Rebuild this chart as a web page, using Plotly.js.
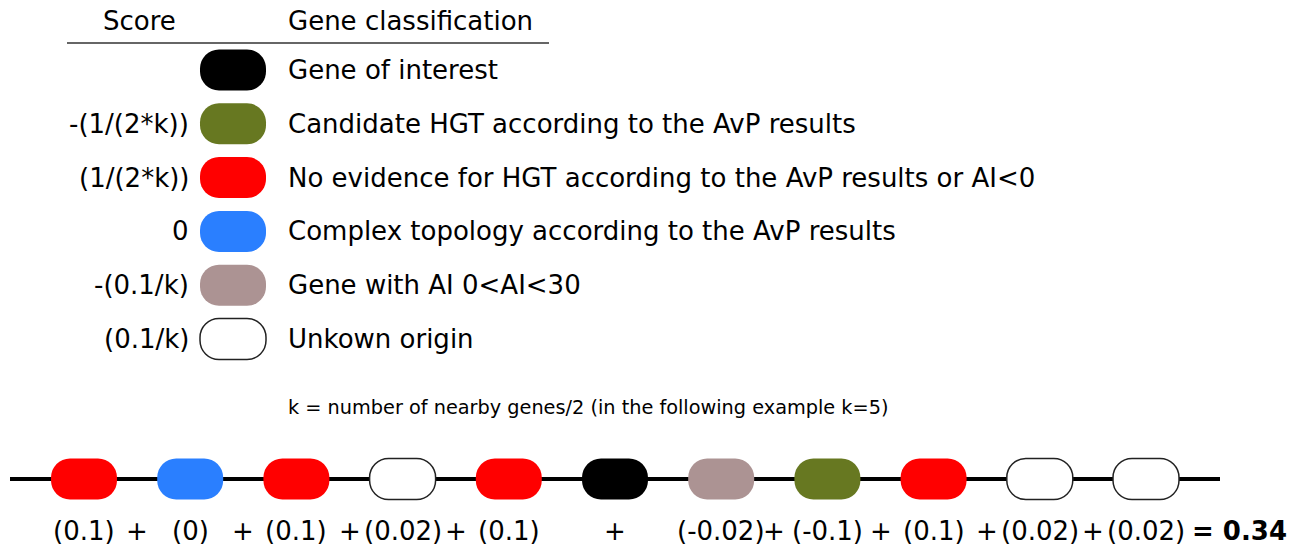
<!DOCTYPE html>
<html>
<head>
<meta charset="utf-8">
<script src="https://cdn.plot.ly/plotly-3.0.1.min.js"></script>
<style>html,body{margin:0;padding:0;background:#fff;}#chart{width:1303px;height:548px;}</style>
</head>
<body>
<div id="chart"></div>
<script>
// ---- Legend data ----
const legendClasses = [
  "Gene of interest",
  "Candidate HGT according to the AvP results",
  "No evidence for HGT according to the AvP results or AI<0",
  "Complex topology according to the AvP results",
  "Gene with AI 0<AI<30",
  "Unkown origin"
];
const legendScores = ["", "-(1/(2*k))", "(1/(2*k))", "0", "-(0.1/k)", "(0.1/k)"];
const legendColors = ["#000000", "#677821", "#ff0000", "#2a7fff", "#ac9393", "#ffffff"];
const headerScore = "Score";
const headerClass = "Gene classification";
const kNote = "k = number of nearby genes/2 (in the following example k=5)";

// ---- Example neighbourhood (k=5) ----
const geneClass = [2, 3, 2, 5, 2, 0, 4, 1, 2, 5, 5]; // index into legend arrays
const geneScores = [0.1, 0, 0.1, 0.02, 0.1, null, -0.02, -0.1, 0.1, 0.02, 0.02];

// ---- Build ----
const FONT = "DejaVu Sans, Verdana, sans-serif";
const FS = 26;
const GENE_ROW_Y = 479, EQ_Y = 531;
const GENE_X0 = 84, GENE_STEP = 106.2;
const ROW_Y0 = 70, ROW_STEP = 53.8;

function pillPath(w, h, r) {
  const k = 0.5523 * r, x = w / 2, y = h / 2;
  return `M ${-x + r},${-y} L ${x - r},${-y} C ${x - r + k},${-y} ${x},${-y + r - k} ${x},${-y + r} ` +
    `L ${x},${y - r} C ${x},${y - r + k} ${x - r + k},${y} ${x - r},${y} ` +
    `L ${-x + r},${y} C ${-x + r - k},${y} ${-x},${y - r + k} ${-x},${y - r} ` +
    `L ${-x},${-y + r} C ${-x},${-y + r - k} ${-x + r - k},${-y} ${-x + r},${-y} Z`;
}
const PILL = pillPath(66, 41, 19);

const shapes = [];
const annotations = [];
const txt = (o) => Object.assign({showarrow: false, yanchor: "middle",
  font: {family: FONT, size: FS, color: "#000"}}, o);

// header underline
shapes.push({type: "line", xref: "x", yref: "y", x0: 67, x1: 549, y0: 43, y1: 43,
  line: {color: "#333333", width: 1.5}, layer: "above"});
annotations.push(txt({xref: "x", yref: "y", x: 139, y: 21, text: headerScore, xanchor: "center"}));
annotations.push(txt({xref: "x", yref: "y", x: 286, y: 21, text: headerClass, xanchor: "left"}));

// legend rows
legendClasses.forEach((name, i) => {
  const white = legendColors[i] === "#ffffff";
  shapes.push({type: "path", xref: "x", yref: "y2", xsizemode: "pixel", ysizemode: "pixel",
    xanchor: 233, yanchor: i, path: PILL, fillcolor: legendColors[i],
    line: {color: white ? "#222222" : legendColors[i], width: white ? 1.5 : 0}, layer: "above"});
  annotations.push(txt({xref: "x", yref: "y2", x: 286, y: i, text: name.replace(/</g, "&lt;"), xanchor: "left"}));
  if (legendScores[i]) {
    annotations.push(txt({xref: "x", yref: "y2", x: 191, y: i, text: legendScores[i], xanchor: "right"}));
  }
});
annotations.push(txt({xref: "x", yref: "y", x: 286, y: 407, text: kNote, xanchor: "left",
  font: {family: FONT, size: 19.3, color: "#000"}}));

// gene backbone
shapes.push({type: "line", xref: "x", yref: "y", x0: 10, x1: 1220, y0: GENE_ROW_Y, y1: GENE_ROW_Y,
  line: {color: "#000000", width: 4}, layer: "above"});
// genes
geneClass.forEach((c, i) => {
  const white = legendColors[c] === "#ffffff";
  shapes.push({type: "path", xref: "x2", yref: "y", xsizemode: "pixel", ysizemode: "pixel",
    xanchor: i, yanchor: GENE_ROW_Y, path: PILL, fillcolor: legendColors[c],
    line: {color: white ? "#222222" : legendColors[c], width: white ? 1.5 : 0}, layer: "above"});
});
// equation
geneScores.forEach((v, i) => {
  annotations.push(txt({xref: "x2", yref: "y", x: i, y: EQ_Y,
    text: v !== null ? "(" + v + ")" : "+", xanchor: "center"}));
  if (i < geneScores.length - 1 && v !== null && geneScores[i + 1] !== null) {
    annotations.push(txt({xref: "x2", yref: "y", x: i + 0.5, y: EQ_Y, text: "+", xanchor: "center"}));
  }
});
const total = geneScores.reduce((s, v) => s + (v || 0), 0);
annotations.push(txt({xref: "x2", yref: "y", x: geneScores.length - 0.5, y: EQ_Y,
  text: "<b>= " + total.toFixed(2) + "</b>", xanchor: "left", xshift: -9}));

const W = 1303, H = 548;
const hidden = {visible: false, showgrid: false, zeroline: false, fixedrange: true};
const layout = {
  width: W, height: H, margin: {l: 0, r: 0, t: 0, b: 0},
  paper_bgcolor: "#fff", plot_bgcolor: "#fff", showlegend: false,
  xaxis: Object.assign({range: [0, W], domain: [0, 1]}, hidden),
  yaxis: Object.assign({range: [H, 0], domain: [0, 1]}, hidden),
  xaxis2: Object.assign({range: [-GENE_X0 / GENE_STEP, (W - GENE_X0) / GENE_STEP], overlaying: "x", anchor: "y"}, hidden),
  yaxis2: Object.assign({range: [(H - ROW_Y0) / ROW_STEP, -ROW_Y0 / ROW_STEP], overlaying: "y", anchor: "x"}, hidden),
  shapes: shapes, annotations: annotations
};
const data = [
  {type: "scatter", mode: "none", x: geneClass.map((c, i) => i), y: geneClass.map(() => GENE_ROW_Y), xaxis: "x2", yaxis: "y", hoverinfo: "skip"},
  {type: "scatter", mode: "none", x: legendClasses.map(() => 233), y: legendClasses.map((c, i) => i), xaxis: "x", yaxis: "y2", hoverinfo: "skip"}
];
Plotly.newPlot("chart", data, layout, {staticPlot: true, displayModeBar: false});
</script>
</body>
</html>
